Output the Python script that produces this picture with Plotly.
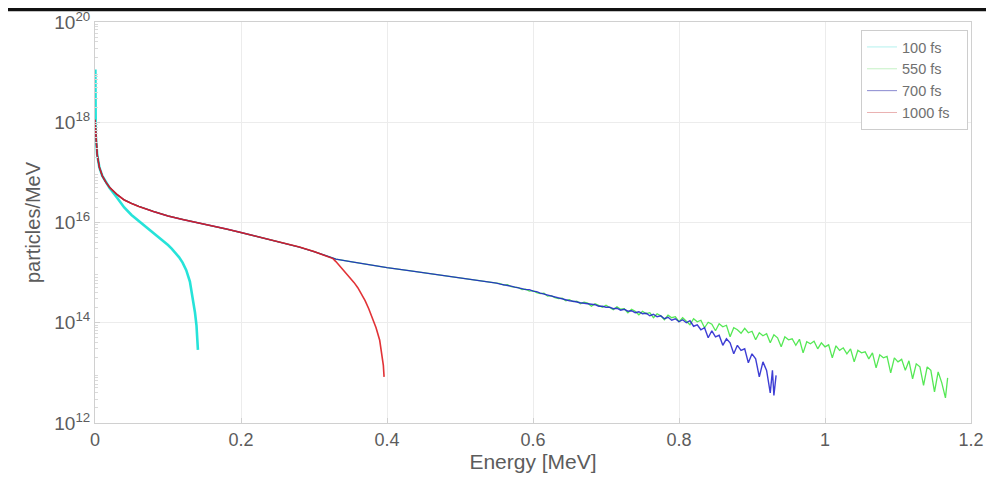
import plotly.graph_objects as go

# ---------------- data (log10 of particles/MeV) ----------------
env_E = [0.0, 0.001, 0.003, 0.006, 0.01, 0.015, 0.02, 0.03, 0.04, 0.05, 0.06, 0.08, 0.10,
         0.12, 0.14, 0.16, 0.18, 0.20, 0.22, 0.24, 0.26, 0.28, 0.30, 0.32, 0.326]
env_L = [18.05, 17.70, 17.35, 17.10, 16.93, 16.80, 16.70, 16.56, 16.45, 16.38, 16.32, 16.22, 16.13,
         16.06, 16.00, 15.93, 15.87, 15.80, 15.73, 15.66, 15.59, 15.51, 15.42, 15.32, 15.28]

mid_E = [0.33, 0.35, 0.37, 0.40, 0.43, 0.46, 0.49, 0.52, 0.55]
mid_L = [15.27, 15.22, 15.17, 15.10, 15.04, 14.98, 14.92, 14.86, 14.79]

cyan_E = [0.0005, 0.0008, 0.001, 0.003, 0.006, 0.01, 0.015, 0.02, 0.03, 0.04, 0.05, 0.06, 0.07,
          0.075, 0.08, 0.09, 0.10, 0.105, 0.11, 0.115, 0.12, 0.125, 0.13, 0.134, 0.137, 0.139,
          0.140, 0.141]
cyan_L = [19.05, 18.60, 17.75, 17.35, 17.10, 16.93, 16.80, 16.69, 16.50, 16.30, 16.15, 16.03, 15.92,
          15.86, 15.79, 15.67, 15.55, 15.48, 15.40, 15.31, 15.20, 15.05, 14.82, 14.50, 14.20, 13.95,
          13.70, 13.46]

red_tail_E = [0.330, 0.335, 0.340, 0.345, 0.350, 0.355, 0.360, 0.365, 0.370, 0.375, 0.380,
              0.385, 0.390, 0.393, 0.395, 0.396]
red_tail_L = [15.22, 15.14, 15.06, 14.98, 14.90, 14.80, 14.70, 14.58, 14.44, 14.28, 14.10,
              13.90, 13.65, 13.40, 13.15, 12.92]

green_tail_E = [0.555, 0.560, 0.565, 0.570, 0.575, 0.580, 0.585, 0.590, 0.595, 0.600,
                0.605, 0.610, 0.615, 0.620, 0.625, 0.630, 0.635, 0.640, 0.645, 0.650,
                0.655, 0.660, 0.665, 0.670, 0.675, 0.680, 0.685, 0.690, 0.695, 0.700,
                0.705, 0.710, 0.715, 0.720, 0.725, 0.730, 0.735, 0.740, 0.745, 0.750,
                0.755, 0.760, 0.765, 0.770, 0.775, 0.780, 0.785, 0.790, 0.795, 0.800,
                0.805, 0.810, 0.815, 0.820, 0.825, 0.830, 0.835, 0.840, 0.845, 0.850,
                0.855, 0.860, 0.865, 0.870, 0.875, 0.880, 0.885, 0.890, 0.895, 0.900,
                0.905, 0.910, 0.915, 0.920, 0.925, 0.930, 0.935, 0.940, 0.945, 0.950,
                0.955, 0.960, 0.965, 0.970, 0.975, 0.980, 0.985, 0.990, 0.995, 1.000,
                1.005, 1.010, 1.015, 1.020, 1.025, 1.030, 1.035, 1.040, 1.045, 1.050,
                1.055, 1.060, 1.065, 1.070, 1.075, 1.080, 1.085, 1.090, 1.095, 1.100,
                1.105, 1.110, 1.115, 1.120, 1.125, 1.130, 1.135, 1.140, 1.145, 1.150,
                1.155, 1.160, 1.165, 1.168]
green_tail_L = [14.78, 14.75, 14.76, 14.72, 14.71, 14.70, 14.66, 14.67, 14.63, 14.64,
                14.60, 14.58, 14.59, 14.53, 14.54, 14.50, 14.48, 14.49, 14.44, 14.46,
                14.42, 14.43, 14.38, 14.41, 14.39, 14.33, 14.38, 14.35, 14.31, 14.35,
                14.30, 14.26, 14.32, 14.27, 14.28, 14.20, 14.27, 14.23, 14.16, 14.23,
                14.18, 14.20, 14.10, 14.18, 14.14, 14.06, 14.15, 14.10, 14.12, 14.02,
                14.10, 14.03, 13.96, 14.08, 14.02, 14.05, 13.90, 14.01, 13.97, 13.84,
                13.98, 13.92, 13.95, 13.72, 13.90, 13.86, 13.79, 13.89, 13.80, 13.83,
                13.66, 13.80, 13.74, 13.78, 13.60, 13.76, 13.70, 13.52, 13.72, 13.66,
                13.68, 13.55, 13.67, 13.40, 13.62, 13.58, 13.63, 13.48, 13.60, 13.52,
                13.56, 13.30, 13.54, 13.45, 13.50, 13.38, 13.48, 13.22, 13.45, 13.40,
                13.42, 13.28, 13.40, 13.10, 13.36, 13.30, 13.33, 13.00, 13.30, 13.22,
                13.27, 13.05, 13.24, 12.88, 13.18, 13.12, 12.75, 13.12, 13.05, 12.62,
                13.02, 12.80, 12.50, 12.90]

blue_tail_E = [0.555, 0.560, 0.565, 0.570, 0.575, 0.580, 0.585, 0.590, 0.595, 0.600,
               0.605, 0.610, 0.615, 0.620, 0.625, 0.630, 0.635, 0.640, 0.645, 0.650,
               0.655, 0.660, 0.665, 0.670, 0.675, 0.680, 0.685, 0.690, 0.695, 0.700,
               0.705, 0.710, 0.715, 0.720, 0.725, 0.730, 0.735, 0.740, 0.745, 0.750,
               0.755, 0.760, 0.765, 0.770, 0.775, 0.780, 0.785, 0.790, 0.795, 0.800,
               0.805, 0.810, 0.815, 0.820, 0.825, 0.830, 0.835, 0.840, 0.845, 0.850,
               0.855, 0.860, 0.865, 0.870, 0.875, 0.880, 0.885, 0.890, 0.895, 0.900,
               0.905, 0.910, 0.915, 0.920, 0.925, 0.928, 0.930, 0.933]
blue_tail_L = [14.77, 14.76, 14.74, 14.73, 14.71, 14.70, 14.68, 14.66, 14.66, 14.63,
               14.62, 14.59, 14.57, 14.55, 14.53, 14.51, 14.49, 14.47, 14.46, 14.44,
               14.43, 14.41, 14.40, 14.39, 14.38, 14.36, 14.36, 14.33, 14.33, 14.31,
               14.31, 14.28, 14.29, 14.25, 14.27, 14.23, 14.24, 14.20, 14.22, 14.18,
               14.19, 14.14, 14.17, 14.12, 14.14, 14.08, 14.11, 14.05, 14.08, 14.02,
               14.06, 14.00, 14.04, 13.93, 13.96, 13.86, 13.90, 13.70, 13.84, 13.72,
               13.75, 13.55, 13.68, 13.60, 13.38, 13.55, 13.45, 13.48, 13.20, 13.38,
               13.28, 12.92, 13.22, 13.05, 12.60, 13.05, 12.55, 12.95]

series_names = ["100 fs", "550 fs", "700 fs", "1000 fs"]
y_label_exps = [12, 14, 16, 18, 20]
x_ticks = [0, 0.2, 0.4, 0.6, 0.8, 1, 1.2]
x_tick_text = ["0", "0.2", "0.4", "0.6", "0.8", "1", "1.2"]

# ---------------- build series ----------------
def pw(vals):
    return [10.0 ** v for v in vals]

cyan_x, cyan_y = cyan_E, pw(cyan_L)
green_x = env_E + mid_E + green_tail_E
green_y = pw(env_L + mid_L + green_tail_L)
blue_x = env_E + mid_E + blue_tail_E
blue_y = pw(env_L + mid_L + blue_tail_L)
red_x = env_E + red_tail_E
red_y = pw(env_L + red_tail_L)

line_cols = ["rgba(0,222,210,0.85)", "rgba(55,228,55,0.85)", "rgba(28,28,205,0.85)", "rgba(222,28,32,0.9)"]
legend_cols = ["rgba(0,210,200,0.30)", "rgba(60,210,60,0.30)", "rgba(40,40,170,0.55)", "rgba(200,60,60,0.40)"]
widths = [2.6, 1.3, 1.4, 1.6]
xs = [cyan_x, green_x, blue_x, red_x]
ys = [cyan_y, green_y, blue_y, red_y]

fig = go.Figure()
for i in range(4):
    fig.add_trace(go.Scatter(x=xs[i], y=ys[i], mode="lines", name=series_names[i],
                             legendgroup=series_names[i], showlegend=False,
                             line=dict(color=line_cols[i], width=widths[i])))
for i in range(4):
    # legend-only entries (faint sample lines, extra padding on the right as in the reference)
    fig.add_trace(go.Scatter(x=[None], y=[None], mode="lines",
                             name=series_names[i] + "\u00a0\u00a0\u00a0",
                             legendgroup=series_names[i], showlegend=True,
                             line=dict(color=legend_cols[i], width=1)))

# axis decorations
minor_vals = [m * 10.0 ** e for e in range(12, 20) for m in range(2, 10)]

font_fam = "Liberation Sans, Arial, sans-serif"
txt_col = "#5c5c5c"
fig.update_layout(
    width=986, height=477,
    margin=dict(l=87, r=23, t=14, b=62, autoexpand=False),
    paper_bgcolor="white", plot_bgcolor="white",
    font=dict(family=font_fam, size=16, color=txt_col),
    showlegend=True,
    legend=dict(x=0.9966, y=0.98, xanchor="right", yanchor="top",
                bgcolor="white", bordercolor="#cdcdcd", borderwidth=1,
                font=dict(size=14.5, color="#707070"), itemwidth=30,
                tracegroupgap=0),
    xaxis=dict(range=[0, 1.2], tickvals=x_ticks, ticktext=x_tick_text, automargin=False,
               showgrid=True, gridcolor="#ececec", gridwidth=1,
               zeroline=False, showline=True, linecolor="#d0d0d0", linewidth=1, mirror=True,
               ticks="inside", ticklen=5, tickcolor="#d0d0d0",
               tickfont=dict(size=18, color=txt_col),
               title=dict(text="Energy [MeV]", font=dict(size=21, color=txt_col), standoff=4)),
    yaxis=dict(type="log", range=[12, 20], automargin=False,
               tickvals=[10.0 ** e for e in y_label_exps],
               ticktext=["10<sup>%d</sup>" % e for e in y_label_exps],
               showgrid=True, gridcolor="#ececec", gridwidth=1,
               zeroline=False, showline=True, linecolor="#d0d0d0", linewidth=1, mirror=True,
               ticks="inside", ticklen=5, tickcolor="#d0d0d0",
               minor=dict(tickvals=minor_vals, ticks="inside", ticklen=3,
                          tickcolor="#dadada", showgrid=False),
               tickfont=dict(size=19, color=txt_col),
               title=dict(text="particles/MeV", font=dict(size=20, color=txt_col), standoff=8)),
    shapes=[dict(type="rect", xref="paper", yref="paper",
                 x0=-0.12, x1=1.05, y0=1.027, y1=1.04,
                 fillcolor="#111111", line=dict(width=0), layer="above")],
)

fig.write_html("out.html")
